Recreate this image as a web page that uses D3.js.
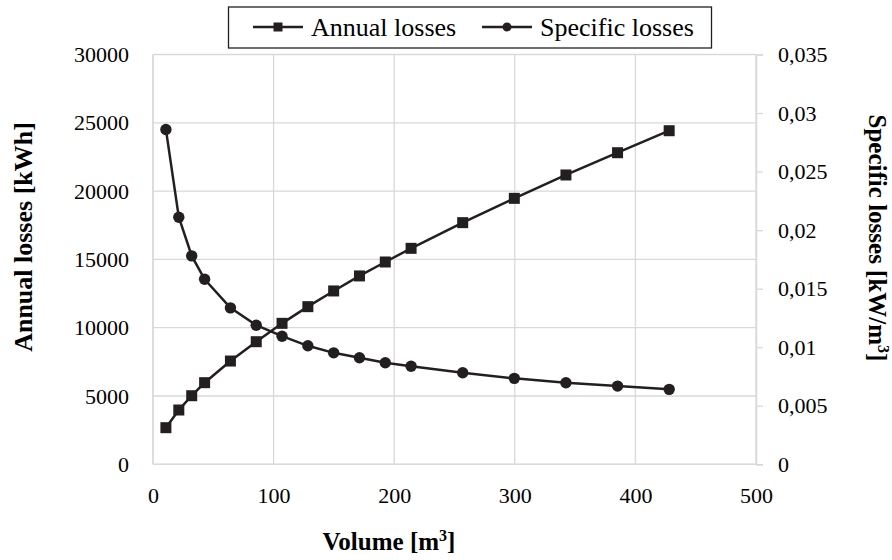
<!DOCTYPE html>
<html>
<head>
<meta charset="utf-8">
<script src="https://cdn.jsdelivr.net/npm/d3@7"></script>
<style>
  body { margin: 0; background: #fff; }
  svg text { font-family: "Liberation Serif", "Times New Roman", serif; fill: #000; }
</style>
</head>
<body>
<svg id="chart" width="892" height="560"></svg>
<script>
// volumes [m3]
var volume = [10.7, 21.4, 32.1, 42.8, 64.2, 85.6, 107, 128.4, 149.8, 171.2, 192.6, 214, 256.8, 299.6, 342.4, 385.2, 428];
// annual losses [kWh]
var annualLosses = [2680, 3975, 5020, 5975, 7560, 8975, 10320, 11540, 12690, 13790, 14810, 15810, 17690, 19470, 21180, 22810, 24420];
// specific losses [kW/m3]
var specificLosses = [0.0286, 0.0211, 0.0178, 0.0158, 0.01336, 0.01188, 0.01094, 0.01012, 0.00952, 0.0091, 0.00867, 0.00838, 0.00782, 0.00734, 0.00696, 0.00668, 0.0064];

var xTicks = [0, 100, 200, 300, 400, 500];
var yLeftTicks = [0, 5000, 10000, 15000, 20000, 25000, 30000];
var yRightTicks = [0, 0.005, 0.01, 0.015, 0.02, 0.025, 0.03, 0.035];
var yRightLabels = ["0", "0,005", "0,01", "0,015", "0,02", "0,025", "0,03", "0,035"];

var svg = d3.select("#chart");
var plotLeft = 153, plotRight = 756, plotTop = 54.5, plotBottom = 464.3;
var ink = "#231f20", gridCol = "#d9d9d9";

var x = d3.scaleLinear().domain([0, 500]).range([plotLeft, plotRight]);
var yL = d3.scaleLinear().domain([0, 30000]).range([plotBottom, plotTop]);
var yR = d3.scaleLinear().domain([0, 0.035]).range([plotBottom, plotTop]);

// gridlines
svg.append("g").selectAll("line")
  .data(yLeftTicks).enter().append("line")
  .attr("x1", plotLeft).attr("x2", plotRight)
  .attr("y1", function(d) { return yL(d); })
  .attr("y2", function(d) { return yL(d); })
  .attr("stroke", gridCol).attr("stroke-width", 1.3);

svg.append("g").selectAll("line")
  .data(xTicks).enter().append("line")
  .attr("y1", plotTop).attr("y2", plotBottom)
  .attr("x1", function(d) { return x(d); })
  .attr("x2", function(d) { return x(d); })
  .attr("stroke", gridCol).attr("stroke-width", 1.3);

// axis lines
svg.append("line").attr("x1", plotLeft).attr("x2", plotLeft).attr("y1", plotTop).attr("y2", plotBottom)
  .attr("stroke", gridCol).attr("stroke-width", 1.5);
svg.append("line").attr("x1", plotLeft).attr("x2", plotRight).attr("y1", plotBottom).attr("y2", plotBottom)
  .attr("stroke", gridCol).attr("stroke-width", 1.5);

// right axis
var rAxis = svg.append("g").attr("transform", "translate(" + plotRight + ",0)")
  .call(d3.axisRight(yR).tickValues(yRightTicks).tickSize(7).tickPadding(15)
    .tickFormat(function(d, i) { return yRightLabels[i]; }));
rAxis.select(".domain").attr("stroke", gridCol).attr("stroke-width", 1.5);
rAxis.selectAll(".tick line").attr("stroke", gridCol).attr("stroke-width", 1.3);
rAxis.selectAll("text").attr("font-size", 22).attr("fill", "#000");

// left axis labels
var lAxis = svg.append("g").attr("transform", "translate(" + plotLeft + ",0)")
  .call(d3.axisLeft(yL).tickValues(yLeftTicks).tickSize(0).tickPadding(24).tickFormat(d3.format("d")));
lAxis.select(".domain").remove();
lAxis.selectAll("text").attr("font-size", 22).attr("fill", "#000");

// bottom axis labels
var bAxis = svg.append("g").attr("transform", "translate(0," + plotBottom + ")")
  .call(d3.axisBottom(x).tickValues(xTicks).tickSize(0).tickPadding(23).tickFormat(d3.format("d")));
bAxis.select(".domain").remove();
bAxis.selectAll("text").attr("font-size", 22).attr("fill", "#000");

// series
var annual = volume.map(function(v, i) { return { x: v, y: annualLosses[i] }; });
var specific = volume.map(function(v, i) { return { x: v, y: specificLosses[i] }; });

svg.append("path").datum(annual)
  .attr("fill", "none").attr("stroke", ink).attr("stroke-width", 2.5)
  .attr("d", d3.line().x(function(d) { return x(d.x); }).y(function(d) { return yL(d.y); }));
svg.append("path").datum(specific)
  .attr("fill", "none").attr("stroke", ink).attr("stroke-width", 2.5)
  .attr("d", d3.line().x(function(d) { return x(d.x); }).y(function(d) { return yR(d.y); }));

var sq = 11;
svg.append("g").selectAll("rect").data(annual).enter().append("rect")
  .attr("x", function(d) { return x(d.x) - sq / 2; })
  .attr("y", function(d) { return yL(d.y) - sq / 2; })
  .attr("width", sq).attr("height", sq).attr("fill", ink);
svg.append("g").selectAll("circle").data(specific).enter().append("circle")
  .attr("cx", function(d) { return x(d.x); })
  .attr("cy", function(d) { return yR(d.y); })
  .attr("r", 5.7).attr("fill", ink);

// axis titles
svg.append("text")
  .attr("transform", "translate(32,237) rotate(-90)")
  .attr("text-anchor", "middle").attr("font-size", 26).attr("font-weight", "bold")
  .text("Annual losses [kWh]");
var rt = svg.append("text")
  .attr("transform", "translate(869,238) rotate(90)")
  .attr("text-anchor", "middle").attr("font-size", 25).attr("font-weight", "bold");
rt.append("tspan").text("Specific losses [kW/m");
rt.append("tspan").attr("font-size", 16).attr("dy", -9).text("3");
rt.append("tspan").attr("dy", 9).text("]");
var xt = svg.append("text")
  .attr("x", 389).attr("y", 550)
  .attr("text-anchor", "middle").attr("font-size", 25).attr("font-weight", "bold");
xt.append("tspan").text("Volume [m");
xt.append("tspan").attr("font-size", 16).attr("dy", -9).text("3");
xt.append("tspan").attr("dy", 9).text("]");

// legend
var lg = svg.append("g");
lg.append("rect").attr("x", 228.5).attr("y", 7).attr("width", 483).attr("height", 41)
  .attr("fill", "#fff").attr("stroke", ink).attr("stroke-width", 1.3);
var legendItems = [
  { name: "Annual losses", shape: "square", x0: 253 },
  { name: "Specific losses", shape: "circle", x0: 482 }
];
legendItems.forEach(function(it) {
  lg.append("line").attr("x1", it.x0).attr("x2", it.x0 + 50).attr("y1", 27).attr("y2", 27)
    .attr("stroke", ink).attr("stroke-width", 2.5);
  if (it.shape == "square") {
    lg.append("rect").attr("x", it.x0 + 25 - 4.5).attr("y", 27 - 4.5).attr("width", 9).attr("height", 9).attr("fill", ink);
  } else {
    lg.append("circle").attr("cx", it.x0 + 25).attr("cy", 27).attr("r", 4.5).attr("fill", ink);
  }
  lg.append("text").attr("x", it.x0 + 58).attr("y", 36).attr("font-size", 26).text(it.name);
});
</script>
</body>
</html>
